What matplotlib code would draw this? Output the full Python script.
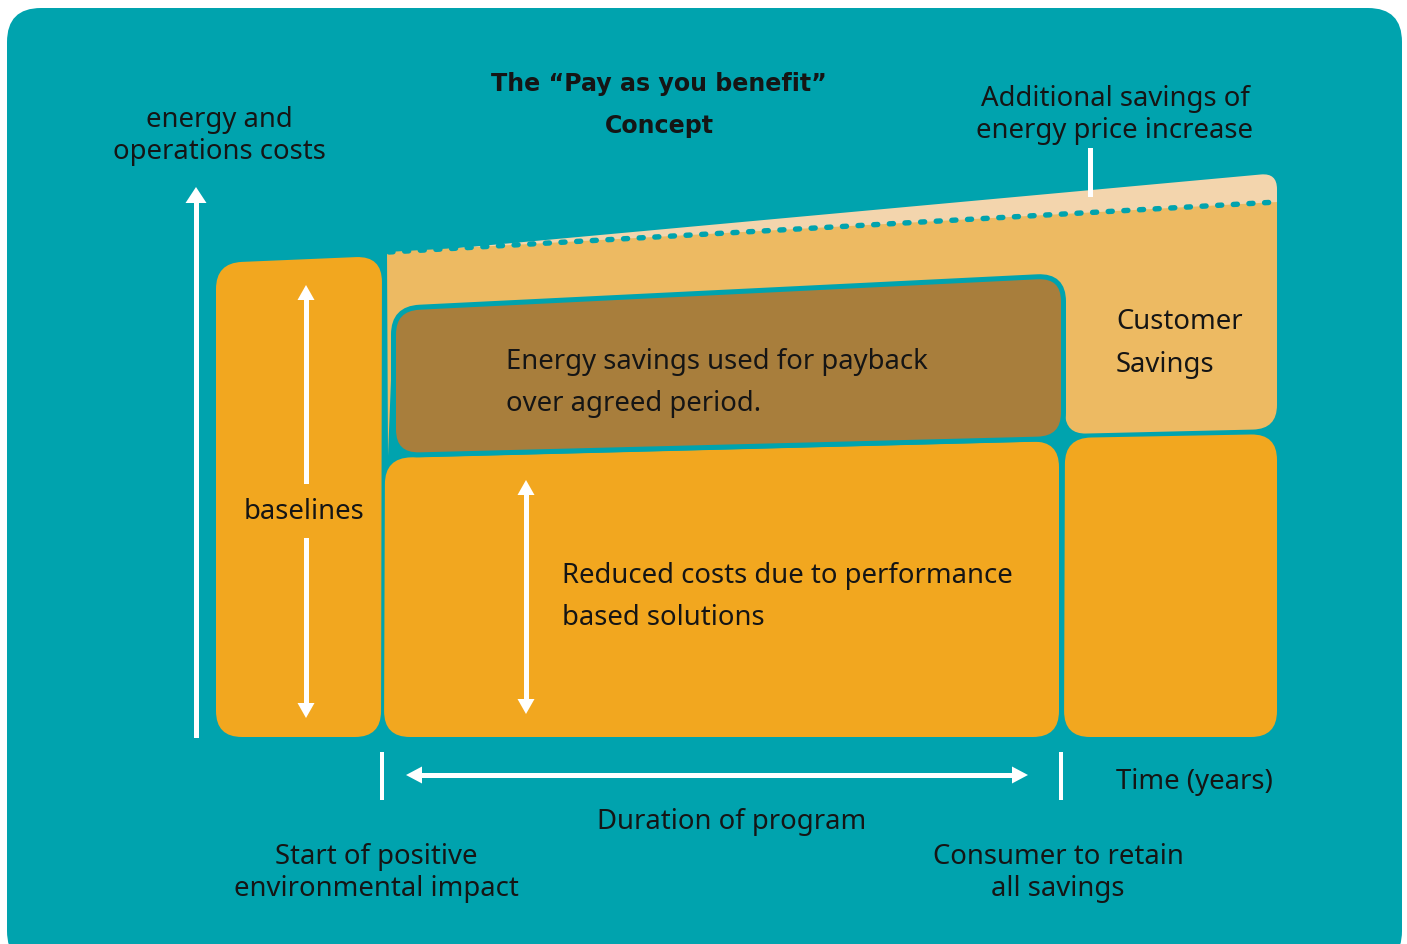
import numpy as np
import matplotlib
matplotlib.use("Agg")
import matplotlib.pyplot as plt
from matplotlib.path import Path
from matplotlib.patches import PathPatch, Polygon

# ---------------- colours ----------------
TEAL = "#00A3AE"
ORANGE = "#F2A71F"
LIGHT = "#EDBA62"
BROWN = "#A87E3C"
CREAM = "#F3D5AD"
TXT = "#151515"
WHITE = "#FFFFFF"

# ---------------- text content ----------------
title_lines = ["The \u201cPay as you benefit\u201d", "Concept"]
ylabel_lines = ["energy and", "operations costs"]
additional_lines = ["Additional savings of", "energy price increase"]
customer_lines = ["Customer", "Savings"]
payback_lines = ["Energy savings used for payback", "over agreed period."]
reduced_lines = ["Reduced costs due to performance", "based solutions"]
baseline_label = "baselines"
time_label = "Time (years)"
duration_label = "Duration of program"
start_lines = ["Start of positive", "environmental impact"]
consumer_lines = ["Consumer to retain", "all savings"]

# ---------------- shapes (pixel space, y down) ----------------
bg_shape = [(7, 8), (1402, 8), (1402, 965), (7, 965)]
baseline_box = [(216, 263), (382, 256), (381, 737), (216, 737)]
main_box = [(385, 458), (1059, 441), (1059, 737), (384, 737)]
right_box = [(1065, 438), (1277, 434), (1277, 737), (1064, 737)]
cream_band = [(420, 251.5), (1277, 173), (1277, 215), (420, 262)]
light_shape = [(387, 252), (1277, 202), (1277, 429), (1066, 434), (1060, 300),
               (400, 330), (393, 330), (388, 456)]
brown_box = [(393.5, 308.5), (1063.5, 275.5), (1063.5, 438.5), (393.5, 455.5)]
dotted_line = [(389, 252), (1277, 202)]

W, H = 1407, 944
fig = plt.figure(figsize=(W / 100, H / 100), dpi=100)
fig.patch.set_facecolor("white")
ax = fig.add_axes([0, 0, 1, 1])
ax.set_xlim(0, W)
ax.set_ylim(H, 0)
ax.axis("off")

PX = 72 / 100  # points per pixel


def rounded_path(verts, r):
    verts = np.asarray(verts, float)
    n = len(verts)
    rs = r if np.iterable(r) else [r] * n
    pts, codes = [], []
    for i in range(n):
        p0, p1, p2 = verts[i - 1], verts[i], verts[(i + 1) % n]
        d1 = p0 - p1
        d1 /= np.hypot(*d1)
        d2 = p2 - p1
        d2 /= np.hypot(*d2)
        a = p1 + d1 * rs[i]
        b = p1 + d2 * rs[i]
        pts.append(a)
        codes.append(Path.MOVETO if i == 0 else Path.LINETO)
        pts += [p1, b]
        codes += [Path.CURVE3, Path.CURVE3]
    pts.append(pts[0])
    codes.append(Path.CLOSEPOLY)
    return Path(pts, codes)


def shape(verts, r, fc, ec="none", lw=0, z=1):
    ax.add_patch(PathPatch(rounded_path(verts, r), facecolor=fc, edgecolor=ec,
                           linewidth=lw, zorder=z, joinstyle="round"))


shape(bg_shape, 34, TEAL, z=0)
shape(cream_band, [0, 16, 0, 0], CREAM, z=1)
shape(light_shape, [0, 0, 24, 20, 0, 0, 0, 0], LIGHT, z=2)
shape(brown_box, 26, BROWN, ec=TEAL, lw=5 * PX, z=3)
shape(baseline_box, 26, ORANGE, z=2)
shape(main_box, 26, ORANGE, z=2)
shape(right_box, 26, ORANGE, z=2)

# dotted boundary
(dx0, dy0), (dx1, dy1) = dotted_line
ax.plot([dx0, dx1], [dy0, dy1], color=TEAL, lw=5.4 * PX,
        linestyle=(0, (0.75, 2.15)), dash_capstyle="round", zorder=4)


def vline(x, y0, y1, w, z=5):
    ax.add_patch(Polygon([(x - w / 2, y0), (x + w / 2, y0), (x + w / 2, y1), (x - w / 2, y1)],
                         closed=True, facecolor=WHITE, edgecolor="none", zorder=z))


def hline(y, x0, x1, w, z=5):
    ax.add_patch(Polygon([(x0, y - w / 2), (x0, y + w / 2), (x1, y + w / 2), (x1, y - w / 2)],
                         closed=True, facecolor=WHITE, edgecolor="none", zorder=z))


def head(tip, direction, length, width, z=6):
    tx, ty = tip
    dx, dy = direction
    bx, by = tx - dx * length, ty - dy * length
    px, py = -dy, dx
    ax.add_patch(Polygon([(tx, ty), (bx + px * width / 2, by + py * width / 2),
                          (bx - px * width / 2, by - py * width / 2)],
                         closed=True, facecolor=WHITE, edgecolor="none", zorder=z))


# y axis arrow
vline(196, 200, 738, 5)
head((196, 187), (0, -1), 16, 21)

# baselines double arrow (with gap for label)
vline(306, 296, 484, 5)
vline(306, 538, 706, 5)
head((306, 285), (0, -1), 15, 17)
head((306, 718), (0, 1), 15, 17)

# reduced costs double arrow
vline(526, 492, 704, 5)
head((526, 480), (0, -1), 15, 17)
head((526, 714), (0, 1), 15, 17)

# duration arrow
hline(775, 418, 1018, 5)
head((406, 775), (-1, 0), 16, 17)
head((1028, 775), (1, 0), 16, 17)

# ticks
vline(382, 752, 800, 3.5)
vline(1061, 752, 800, 3.5)
vline(1090, 148, 197, 5)

# ---------------- texts ----------------
FONT = ["Noto Sans", "DejaVu Sans"]
BFONT = ["DejaVu Sans"]
FS = 19.8
TFS = 17.1


def txt(x, y, s, ha="left", bold=False, fs=None):
    ax.text(x, y, s, ha=ha, va="baseline", color=TXT,
            family=BFONT if bold else FONT,
            fontsize=fs if fs else (TFS if bold else FS),
            fontweight="bold" if bold else "normal", zorder=10)


txt(659, 91, title_lines[0], ha="center", bold=True)
txt(659, 133, title_lines[1], ha="center", bold=True)
txt(219, 127, ylabel_lines[0], ha="center")
txt(219, 159, ylabel_lines[1], ha="center")
txt(1115, 106, additional_lines[0], ha="center")
txt(1115, 138, additional_lines[1], ha="center")
txt(1116, 329, customer_lines[0])
txt(1116, 372, customer_lines[1])
txt(506, 369, payback_lines[0])
txt(506, 411, payback_lines[1])
txt(304, 519, baseline_label, ha="center")
txt(562, 583, reduced_lines[0])
txt(562, 625, reduced_lines[1])
txt(1116, 789, time_label)
txt(732, 829, duration_label, ha="center")
txt(376, 864, start_lines[0], ha="center")
txt(376, 896, start_lines[1], ha="center")
txt(1058, 864, consumer_lines[0], ha="center")
txt(1058, 896, consumer_lines[1], ha="center")

fig.savefig("out.png", dpi=100, facecolor="white")
